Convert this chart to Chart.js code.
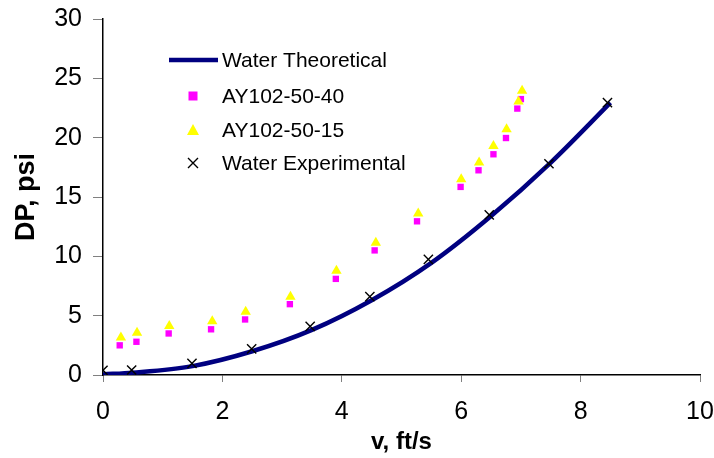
<!DOCTYPE html>
<html>
<head>
<meta charset="utf-8">
<script src="https://cdn.jsdelivr.net/npm/chart.js@4.4.1/dist/chart.umd.min.js"></script>
<style>
  html, body { margin: 0; padding: 0; background: #fff; }
  #wrap { width: 714px; height: 458px; }
</style>
</head>
<body>
<div id="wrap"><canvas id="dpChart" width="714" height="458"></canvas></div>
<script>
// velocity (ft/s) and pressure drop (psi)
const theoV = [0, 0.5, 1.5, 2.5, 3.5, 4.5, 5.5, 6.5, 7.5, 8.5];
const theoDP = [0.05, 0.2, 0.75, 2.0, 3.8, 6.3, 9.45, 13.4, 17.9, 22.95];

const expV = [0, 0.48, 1.49, 2.49, 3.47, 4.47, 5.45, 6.47, 7.47, 8.45];
const expDP = [0.4, 0.42, 0.98, 2.2, 4.1, 6.6, 9.75, 13.5, 17.8, 22.95];

const ay40V = [0.28, 0.56, 1.1, 1.81, 2.38, 3.13, 3.9, 4.55, 5.26, 5.99, 6.29, 6.54, 6.75, 6.94, 7.0];
const ay40DP = [2.5, 2.8, 3.5, 3.85, 4.68, 5.97, 8.1, 10.5, 12.95, 15.85, 17.25, 18.6, 19.97, 22.45, 23.25];

const ay15V = [0.3, 0.57, 1.11, 1.83, 2.39, 3.14, 3.91, 4.57, 5.28, 6.0, 6.3, 6.54, 6.76, 6.96, 7.02];
const ay15DP = [3.15, 3.55, 4.12, 4.52, 5.32, 6.6, 8.78, 11.15, 13.6, 16.5, 17.9, 19.3, 20.7, 23.05, 23.95];

const xTicks = [0, 2, 4, 6, 8, 10];
const yTicks = [0, 5, 10, 15, 20, 25, 30];

const toPoints = (xs, ys) => xs.map((x, i) => ({ x: x, y: ys[i] }));

const fontFamily = 'Arial, "Liberation Sans", sans-serif';

// legend drawn inside the plot area, like the original spreadsheet chart
const legendBox = {
    id: 'legendBox',
    afterDraw(chart) {
        const ctx = chart.ctx;
        const sx = 193, tx = 222;
        const rows = [60, 96, 130, 163];
        ctx.save();
        ctx.font = '21px ' + fontFamily;
        ctx.textBaseline = 'middle';

        chart.data.datasets.forEach((ds, i) => {
            const y = rows[i];
            if (ds.showLine) {
                ctx.strokeStyle = ds.borderColor;
                ctx.lineWidth = 4.5;
                ctx.beginPath();
                ctx.moveTo(169, y);
                ctx.lineTo(218, y);
                ctx.stroke();
            } else if (ds.pointStyle === 'rect') {
                ctx.fillStyle = ds.pointBackgroundColor;
                ctx.fillRect(sx - 4.5, y - 4.5, 9, 9);
            } else if (ds.pointStyle === 'triangle') {
                ctx.fillStyle = ds.pointBackgroundColor;
                ctx.beginPath();
                ctx.moveTo(sx, y - 6);
                ctx.lineTo(sx + 6, y + 5);
                ctx.lineTo(sx - 6, y + 5);
                ctx.closePath();
                ctx.fill();
            } else {
                ctx.strokeStyle = '#000';
                ctx.lineWidth = 1.4;
                ctx.beginPath();
                ctx.moveTo(sx - 5, y - 5); ctx.lineTo(sx + 5, y + 5);
                ctx.moveTo(sx + 5, y - 5); ctx.lineTo(sx - 5, y + 5);
                ctx.stroke();
            }
            ctx.fillStyle = '#000';
            ctx.fillText(ds.label, tx, y + 1);
        });
        ctx.restore();
    }
};

new Chart(document.getElementById('dpChart'), {
    type: 'scatter',
    data: {
        datasets: [
            {
                label: 'Water Theoretical',
                data: toPoints(theoV, theoDP),
                showLine: true,
                borderColor: '#000080',
                borderWidth: 4.5,
                pointRadius: 0,
                cubicInterpolationMode: 'monotone',
                order: 4
            },
            {
                label: 'AY102-50-40',
                data: toPoints(ay40V, ay40DP),
                pointStyle: 'rect',
                pointRadius: 4.5,
                pointBackgroundColor: '#ff00ff',
                pointBorderColor: '#ff00ff',
                pointBorderWidth: 0,
                order: 3
            },
            {
                label: 'AY102-50-15',
                data: toPoints(ay15V, ay15DP),
                pointStyle: 'triangle',
                pointRadius: 6,
                pointBackgroundColor: '#ffff00',
                pointBorderColor: '#ffff00',
                pointBorderWidth: 0,
                order: 2
            },
            {
                label: 'Water Experimental',
                data: toPoints(expV, expDP),
                pointStyle: 'crossRot',
                pointRadius: 6.5,
                pointBorderColor: '#000',
                pointBorderWidth: 1.4,
                order: 1
            }
        ]
    },
    options: {
        responsive: false,
        animation: false,
        layout: { padding: { left: 0, right: 14, top: 19, bottom: 0 } },
        plugins: {
            legend: { display: false },
            tooltip: { enabled: false }
        },
        scales: {
            x: {
                type: 'linear',
                min: 0,
                max: 10,
                afterBuildTicks: (scale) => { scale.ticks = xTicks.map(v => ({ value: v })); },
                afterFit: (scale) => {
                    scale.height = 83;
                    scale.paddingLeft = 0;
                    scale.paddingRight = 0;
                },
                grid: { drawOnChartArea: false, drawTicks: true, tickLength: 7, color: '#808080' },
                border: { color: '#000', width: 1.5 },
                ticks: { color: '#000', font: { size: 25, family: fontFamily }, padding: 15, maxRotation: 0 },
                title: {
                    display: true,
                    text: 'v, ft/s',
                    color: '#000',
                    font: { size: 24, weight: 'bold', family: fontFamily },
                    padding: { top: 0, bottom: 1 }
                }
            },
            y: {
                min: 0,
                max: 30,
                afterBuildTicks: (scale) => { scale.ticks = yTicks.map(v => ({ value: v })); },
                afterFit: (scale) => {
                    scale.width = 103;
                    scale.paddingTop = 0;
                    scale.paddingBottom = 0;
                },
                grid: { drawOnChartArea: false, drawTicks: true, tickLength: 10, color: '#808080' },
                border: { color: '#000', width: 1.5 },
                ticks: { color: '#000', font: { size: 25, family: fontFamily }, padding: 11 },
                title: {
                    display: true,
                    text: 'DP, psi',
                    color: '#000',
                    font: { size: 27, weight: 'bold', family: fontFamily },
                    padding: { top: 10, bottom: 0 }
                }
            }
        }
    },
    plugins: [legendBox]
});
</script>
</body>
</html>
